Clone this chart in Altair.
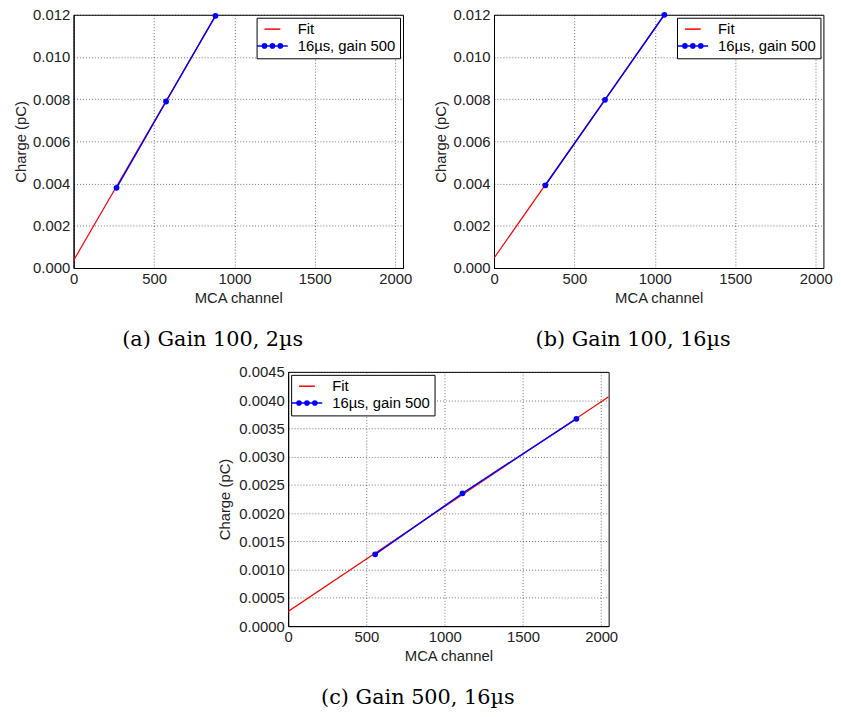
import altair as alt
import pandas as pd

# ---------------- data ----------------
x_ticks = [0, 500, 1000, 1500, 2000]
x_max = 2048

series_names = ["Fit", "16µs, gain 500"]
series_colors = ["#ff0000", "#0000ff"]

# (a) Gain 100, 2µs
a_channel = [267, 575, 882]
a_charge = [0.0038, 0.00789, 0.01195]
a_fit_channel = [0, 2048]
a_fit_charge = [0.00036, 0.02727]
a_y_max = 0.012
a_y_ticks = [0.000, 0.002, 0.004, 0.006, 0.008, 0.010, 0.012]

# (b) Gain 100, 16µs
b_channel = [319, 690, 1059]
b_charge = [0.00392, 0.00797, 0.0120]
b_fit_channel = [0, 2048]
b_fit_charge = [0.00047, 0.02277]
b_y_max = 0.012
b_y_ticks = [0.000, 0.002, 0.004, 0.006, 0.008, 0.010, 0.012]

# (c) Gain 500, 16µs
c_channel = [556, 1114, 1842]
c_charge = [0.00127, 0.00235, 0.00367]
c_fit_channel = [0, 2048]
c_fit_charge = [0.00026, 0.00406]
c_y_max = 0.0045
c_y_ticks = [0.0, 0.0005, 0.0010, 0.0015, 0.0020, 0.0025, 0.0030, 0.0035, 0.0040, 0.0045]

captions = ["(a) Gain 100, 2µs", "(b) Gain 100, 16µs", "(c) Gain 500, 16µs"]


# ---------------- legend symbols (line, and line with three dots) ----------------
def ring(cx, r):
    return f"M{cx - r},0a{r},{r} 0 1,0 {2 * r},0a{r},{r} 0 1,0 {-2 * r},0"


fit_symbol = "M-1.6,0H1.6"
data_symbol = "M-3.1,0H3.1" + "".join(ring(cx, r) for cx in (-1.6, 0, 1.6) for r in (0.42, 0.22, 0.06))


def panel(ch, q, fit_ch, fit_q, y_max, y_ticks, y_fmt, caption, legend_orient, w, h, y_title_pad=4):
    pts = pd.DataFrame({"channel": ch, "charge": q, "series": series_names[1]})
    fit = pd.DataFrame({"channel": fit_ch, "charge": fit_q, "series": series_names[0]})
    xs = alt.Scale(domain=[0, x_max], nice=False, zero=False)
    ys = alt.Scale(domain=[0, y_max], nice=False)
    xenc = alt.X("channel:Q", scale=xs,
                 axis=alt.Axis(values=x_ticks, format="d", title="MCA channel"))
    yenc = alt.Y("charge:Q", scale=ys,
                 axis=alt.Axis(values=y_ticks, format=y_fmt, title="Charge (pC)",
                               titlePadding=y_title_pad))

    fit_line = alt.Chart(fit).mark_line(color=series_colors[0], strokeWidth=1.2, clip=True).encode(
        x=xenc, y=yenc)
    data_line = alt.Chart(pts).mark_line(color=series_colors[1], strokeWidth=1.5, clip=True).encode(
        x=xenc, y=yenc)
    dots = alt.Chart(pts).mark_circle(color=series_colors[1], size=34, opacity=1).encode(
        x=xenc, y=yenc)

    leg = alt.Legend(
        title=None, orient=legend_orient, offset=3,
        strokeColor="black", fillColor="white", cornerRadius=0, padding=4,
        labelFont="Liberation Sans", labelFontSize=15, labelColor="black",
        symbolSize=100, symbolStrokeWidth=1.5, symbolOffset=4.5, labelOffset=18,
        rowPadding=1,
    )
    legend_layer = alt.Chart(pts).mark_point(filled=False, opacity=0, clip=True).encode(
        x=xenc, y=yenc,
        color=alt.Color("series:N", scale=alt.Scale(domain=series_names, range=series_colors), legend=leg),
        shape=alt.Shape("series:N", scale=alt.Scale(domain=series_names, range=[fit_symbol, data_symbol]),
                        legend=leg),
    )
    return alt.layer(fit_line, data_line, dots, legend_layer).properties(
        width=w, height=h,
        title=alt.TitleParams(caption, orient="bottom", anchor="middle", frame="bounds",
                              font="DejaVu Serif", fontSize=21, fontWeight="normal",
                              color="black", offset=24),
    )


pa = panel(a_channel, a_charge, a_fit_channel, a_fit_charge, a_y_max, a_y_ticks, ".3f",
           captions[0], "top-right", 333, 256)
pb = panel(b_channel, b_charge, b_fit_channel, b_fit_charge, b_y_max, b_y_ticks, ".3f",
           captions[1], "top-right", 333, 256)
pc = panel(c_channel, c_charge, c_fit_channel, c_fit_charge, c_y_max, c_y_ticks, ".4f",
           captions[2], "top-left", 324, 257, y_title_pad=6)

indep = dict(x="independent", y="independent", color="independent", shape="independent")

top = alt.hconcat(pa, pb, spacing=20).resolve_scale(**indep).resolve_legend(
    color="independent", shape="independent")
chart = alt.vconcat(top, pc, spacing=13, center=True).resolve_scale(**indep).resolve_legend(
    color="independent", shape="independent")

chart = chart.properties(
    padding={"left": 5, "top": -5, "right": 0, "bottom": 0},
    background="white",
).configure_axis(
    labelFont="Liberation Sans", labelFontSize=15, labelColor="#222222",
    titleFont="Liberation Sans", titleFontSize=15, titleFontWeight="normal", titleColor="#222222",
    domainColor="black", domainWidth=1,
    gridColor="black", gridDash=[1, 2], gridOpacity=0.7, gridWidth=0.8,
    ticks=False, labelFlush=False, labelOverlap=False, labelPadding=4, titlePadding=4,
).configure_view(
    stroke="black", strokeWidth=1,
)

chart.save("out.html", embed_options={"renderer": "svg", "actions": False})
